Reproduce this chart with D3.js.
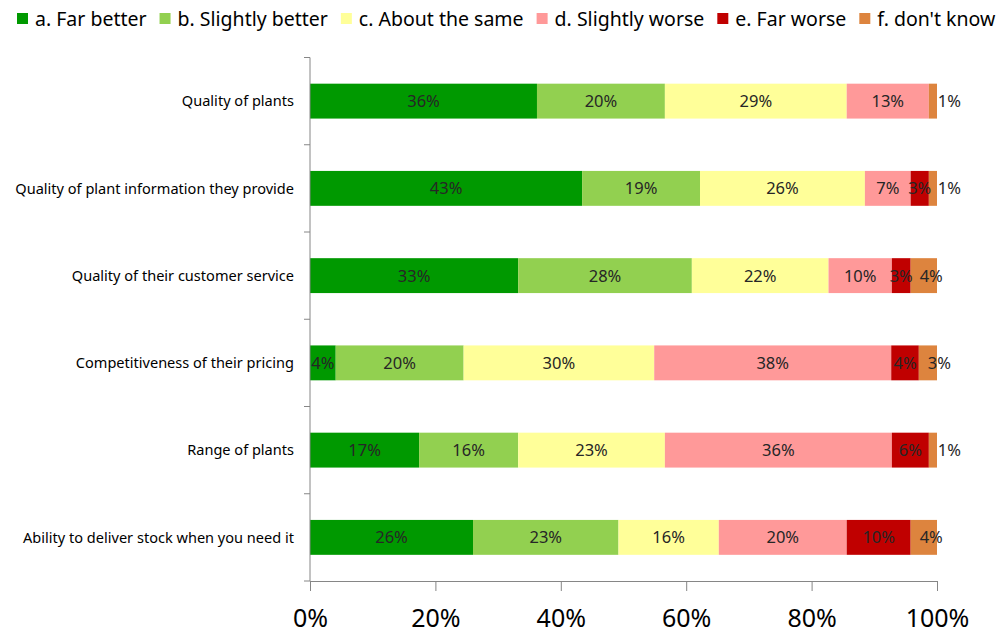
<!DOCTYPE html>
<html>
<head>
<meta charset="utf-8">
<script src="https://cdn.jsdelivr.net/npm/d3@7"></script>
<style>
  body { margin: 0; background: #fff; }
  svg { display: block; font-family: "Noto Sans", "DejaVu Sans", sans-serif; }
</style>
</head>
<body>
<div id="chart"></div>
<script>
// Categories (top to bottom) and the share of answers per category, in %
const categories = [
    "Quality of plants",
    "Quality of plant information they provide",
    "Quality of their customer service",
    "Competitiveness of their pricing",
    "Range of plants",
    "Ability to deliver stock when you need it"
];
const seriesNames = ["a. Far better", "b. Slightly better", "c. About the same", "d. Slightly worse", "e. Far worse", "f. don't know"];
const farBetter      = [36.2, 43.4, 33.2, 4.1, 17.4, 26.0];
const slightlyBetter = [20.4, 18.8, 27.7, 20.4, 15.8, 23.2];
const aboutSame      = [29.0, 26.3, 21.8, 30.4, 23.4, 16.0];
const slightlyWorse  = [13.1, 7.3, 10.1, 37.8, 36.2, 20.4];
const farWorse       = [0, 2.9, 3.0, 4.4, 5.9, 10.2];
const dontKnow       = [1.3, 1.3, 4.2, 2.9, 1.3, 4.2];
const xTicks = [0, 0.2, 0.4, 0.6, 0.8, 1];

const colors = ["#009900", "#92d050", "#ffff99", "#ff9999", "#c00000", "#dd843e"];

const width = 1001, height = 634;
const margin = { top: 57.5, right: 64, bottom: 53, left: 310 };

const svg = d3.select("#chart").append("svg")
    .attr("width", width)
    .attr("height", height);

// build rows for the stack
const seriesValues = [farBetter, slightlyBetter, aboutSame, slightlyWorse, farWorse, dontKnow];
const rows = categories.map((c, i) => {
    const row = { category: c };
    seriesNames.forEach((s, j) => row[s] = seriesValues[j][i] / 100);
    return row;
});
const stacked = d3.stack().keys(seriesNames)(rows);

const x = d3.scaleLinear()
    .domain([0, 1])
    .range([margin.left, width - margin.right]);

const y = d3.scaleBand()
    .domain(categories)
    .range([margin.top, height - margin.bottom])
    .paddingInner(0.6)
    .paddingOuter(0.3);

// bars
const layer = svg.append("g")
    .selectAll("g")
    .data(stacked)
    .join("g")
    .attr("fill", (d, i) => colors[i]);

layer.selectAll("rect")
    .data(d => d)
    .join("rect")
    .attr("x", d => x(d[0]))
    .attr("y", d => y(d.data.category))
    .attr("width", d => x(d[1]) - x(d[0]))
    .attr("height", y.bandwidth());

// value labels (tiny last segment gets its label pushed right, like excel does)
const lastKey = seriesNames[seriesNames.length - 1];
const pushed = (s, d) => s.key === lastKey && x(d[1]) - x(d[0]) < 30;
stacked.forEach(s => {
    svg.append("g")
        .selectAll("text")
        .data(s.filter(d => d[1] - d[0] > 0))
        .join("text")
        .attr("x", d => pushed(s, d) ? x(d[0]) + 9 : (x(d[0]) + x(d[1])) / 2)
        .attr("text-anchor", d => pushed(s, d) ? "start" : "middle")
        .attr("y", d => y(d.data.category) + y.bandwidth() / 2)
        .attr("dy", "0.36em")
        .attr("font-size", 16.5)
        .attr("fill", "#262626")
        .text(d => Math.round((d[1] - d[0]) * 100) + "%");
});

// x axis
const xAxis = svg.append("g")
    .attr("transform", `translate(0,${height - margin.bottom})`)
    .call(d3.axisBottom(x)
        .tickValues(xTicks)
        .tickFormat(d3.format(".0%"))
        .tickSize(10)
        .tickSizeOuter(0)
        .tickPadding(18));
xAxis.select(".domain").attr("stroke", "#868686");
xAxis.selectAll(".tick line").attr("stroke", "#868686");
xAxis.selectAll(".tick text")
    .attr("font-size", 25)
    .attr("fill", "#000")
    .attr("font-family", "Noto Sans, sans-serif");

// y axis: vertical line with ticks on category boundaries
const yAxis = svg.append("g").attr("stroke", "#868686");
yAxis.append("line")
    .attr("x1", x(0)).attr("x2", x(0))
    .attr("y1", y.range()[0]).attr("y2", y.range()[1]);
yAxis.selectAll("line.tick")
    .data(d3.range(categories.length + 1))
    .join("line")
    .attr("class", "tick")
    .attr("x1", x(0) - 6).attr("x2", x(0))
    .attr("y1", i => y.range()[0] + i * y.step())
    .attr("y2", i => y.range()[0] + i * y.step());

const catLabels = svg.append("g")
    .selectAll("text")
    .data(categories)
    .join("text")
    .attr("x", x(0) - 16)
    .attr("y", d => y(d) + y.bandwidth() / 2)
    .attr("dy", "0.36em")
    .attr("text-anchor", "end")
    .attr("font-size", 14)
    .attr("fill", "#000")
    .text(d => d);

// size the category font so the longest label spans the left margin (~279px)
const longest = d3.max(catLabels.nodes(), n => n.getComputedTextLength());
catLabels.attr("font-size", 14 * 279 / longest);

// legend
const legend = svg.append("g").attr("transform", "translate(17,0)");
let lx = 0;
seriesNames.forEach((name, i) => {
    legend.append("rect")
        .attr("x", lx).attr("y", 13)
        .attr("width", 11).attr("height", 11)
        .attr("fill", colors[i]);
    const t = legend.append("text")
        .attr("x", lx + 18)
        .attr("y", 26)
        .attr("font-size", 19.5)
        .attr("fill", "#000")
        .text(name);
    lx += 18 + t.node().getComputedTextLength() + 13;
});
</script>
</body>
</html>
